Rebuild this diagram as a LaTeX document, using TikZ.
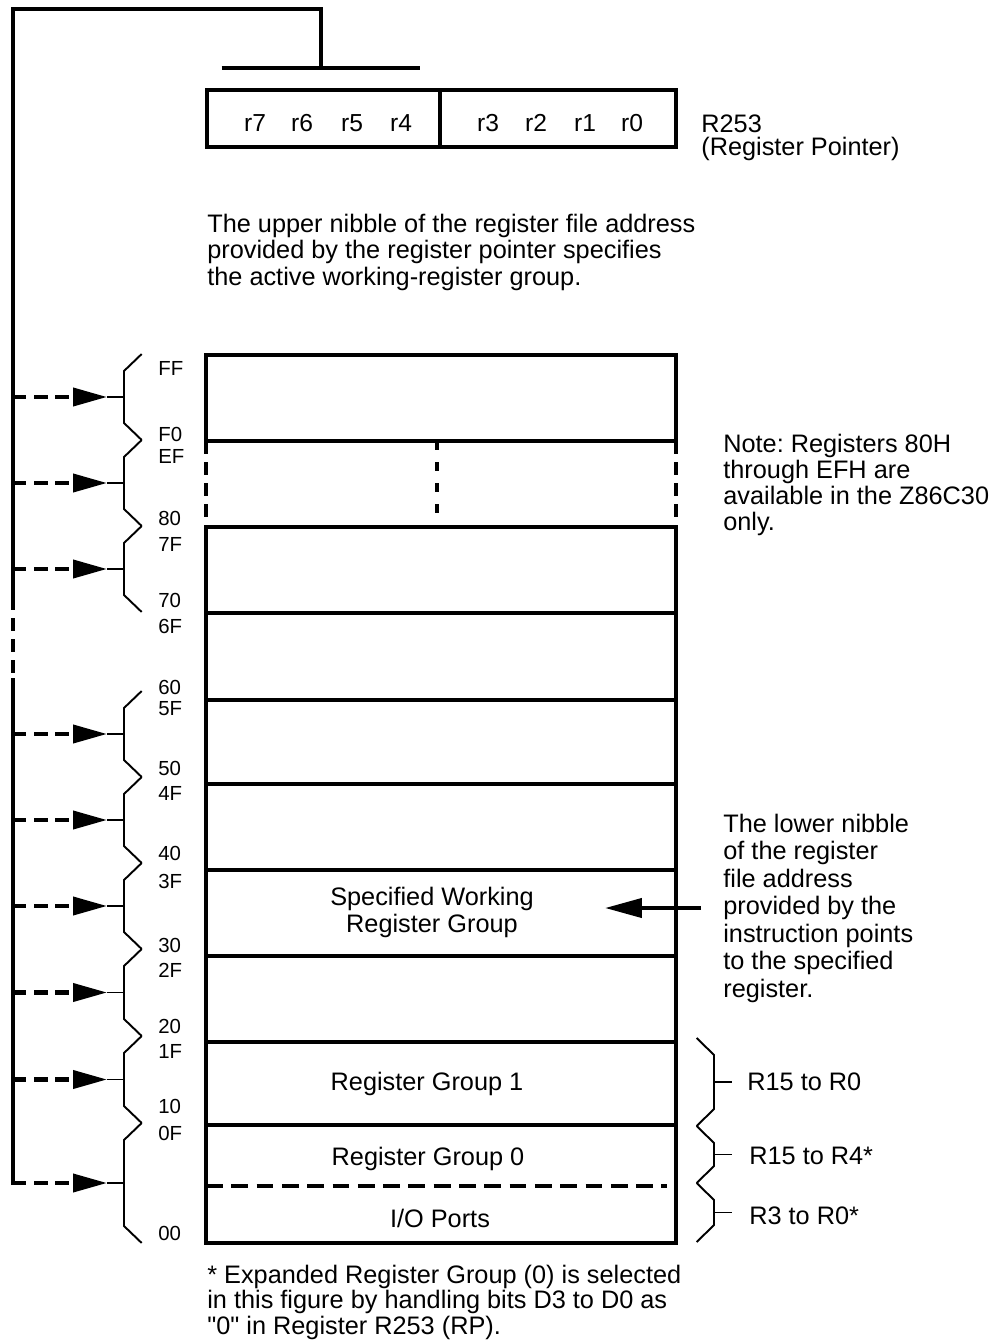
\documentclass[tikz,border=0pt]{standalone}
\usepackage{fontspec}
\setmainfont{Liberation Sans}
\usetikzlibrary{arrows.meta,positioning}
\frenchspacing

\begin{document}
\begin{tikzpicture}[x=0.02cm, y=-0.02cm,
        wire/.style={line width=2.3pt},
        thin wire/.style={line width=1.1pt},
        dash wire/.style={line width=2.3pt, dash pattern=on 7.5pt off 4.5pt},
        ptr/.style={dash wire, -{Triangle[length=19.3pt,width=10.2pt]}},
        txt/.style={inner sep=0pt, anchor=base west, align=left, font=\fontsize{14.4}{15}\selectfont},
        ctxt/.style={inner sep=0pt, anchor=base, align=center, font=\fontsize{14.4}{15.3}\selectfont},
        hex/.style={inner sep=0pt, anchor=base west, font=\fontsize{11.6}{12}\selectfont}]
    \useasboundingbox (0,0) rectangle (1000,1342);

    % register pointer (multi-line texts sit on their last baseline)
    \node[draw, wire, inner sep=0pt, minimum width=4.667cm, minimum height=1.133cm] (hi) at (323.3,118.3) {};
    \node[draw, wire, inner sep=0pt, minimum width=4.72cm, minimum height=1.133cm] (lo) at (558,118.3) {};
    \foreach \b/\x in {7/255,6/302,5/352,4/401,3/488,2/536,1/585,0/632}
        \node[ctxt, font=\fontsize{14}{15}\selectfont] (r\b) at (\x,131.7) {r\b};
    \node[txt, font=\fontsize{14.4}{13}\selectfont] (rp) at (701,155) {R253\\(Register Pointer)};
    \node[txt] (up) at (207,285) {The upper nibble of the register file address\\provided by the register pointer specifies\\the active working-register group.};

    \coordinate (bar) at (321,68.3);
    \draw[wire] (221.7,68.3) -- (420,68.3);

    % register file
    \draw[wire] (206,441) -- (206,355) -- (676,355) -- (676,441);
    \draw[wire] (206,527) -- (206,1243) -- (676,1243) -- (676,527);
    \foreach \y in {441,527,613,700,784,870,956,1042,1125}
        \draw[wire] (206,\y) -- (676,\y);
    \draw[dash wire] (206,441) -- (206,527);
    \draw[dash wire] (676,441) -- (676,527);
    \draw[wire, dash pattern=on 5pt off 7pt] (437,441) -- (437,514);
    \draw[wire, dash pattern=on 9.6pt off 4.8pt] (206,1186) -- (667,1186);

    \node[ctxt] (spec) at (432,932) {Specified Working\\Register Group};
    \node[ctxt] (g1) at (427,1090) {Register Group 1};
    \node[ctxt] (g0) at (428,1165) {Register Group 0};
    \node[ctxt] (io) at (440,1227) {I/O Ports};

    \foreach \t/\y in {FF/375,F0/441,EF/463,80/525,7F/551,70/607,6F/633,60/694,5F/715,50/775,
                       4F/800,40/860,3F/888,30/952,2F/977,20/1033,1F/1058,10/1113,0F/1140,00/1240}
        \node[hex] (a\t) at (158,\y) {\t};

    % groups selected by the pointer
    \foreach \a/\b [count=\i] in {354/440,440/526,526/612,691/777,777/863,863/949,949/1036,1036/1123,1123/1243}{
        \draw[thin wire] (141.7,\a) -- (124,\a+17) -- (124,\b-17) -- (141.7,\b);
        \coordinate (t\i) at (124,{(\a+\b)/2});
        \coordinate (s\i) at (13.3,{(\a+\b)/2});
        \draw[thin wire] (t\i) -- ++(-17,0) coordinate (h\i);
        \draw[ptr] (s\i) -- (h\i);
    }
    \draw[wire, line cap=rect] (bar) -- (321,9.3) -- (13.3,9.3) -- (13.3,597);
    \draw[dash wire] (13.3,597) -- (13.3,680);
    \draw[wire, line cap=rect] (13.3,680) -- (s9);

    \node[txt, font=\fontsize{14.4}{14.7}\selectfont] (note) at (723,530) {Note: Registers 80H\\through EFH are\\available in the Z86C30\\only.};
    \node[txt, font=\fontsize{14.4}{15.6}\selectfont] (low) at (723,997) {The lower nibble\\of the register\\file address\\provided by the\\instruction points\\to the specified\\register.};
    \coordinate (from) at (701,908);
    \coordinate (to) at (605,908);
    \draw[wire, -{Triangle[length=21pt,width=10.8pt]}] (from) -- (to);

    % working registers
    \foreach \a/\b [count=\i] in {1038/1126,1126/1183,1183/1242}{
        \draw[thin wire] (696.7,\a) -- (714,\a+17) -- (714,\b-17) -- (696.7,\b);
        \coordinate (m\i) at (714,{(\a+\b)/2});
        \draw[thin wire] (m\i) -- ++(18,0) coordinate (n\i);
    }
    \node[txt] (q1) at (747,1090.7) {R15 to R0};
    \node[txt] (q2) at (749,1164) {R15 to R4*};
    \node[txt] (q3) at (749,1224) {R3 to R0*};

    \node[txt, font=\fontsize{14.4}{14.5}\selectfont] (foot) at (207,1334) {* Expanded Register Group (0) is selected\\in this figure by handling bits D3 to D0 as\\\textquotedbl 0\textquotedbl{} in Register R253 (RP).};
\end{tikzpicture}
\end{document}
